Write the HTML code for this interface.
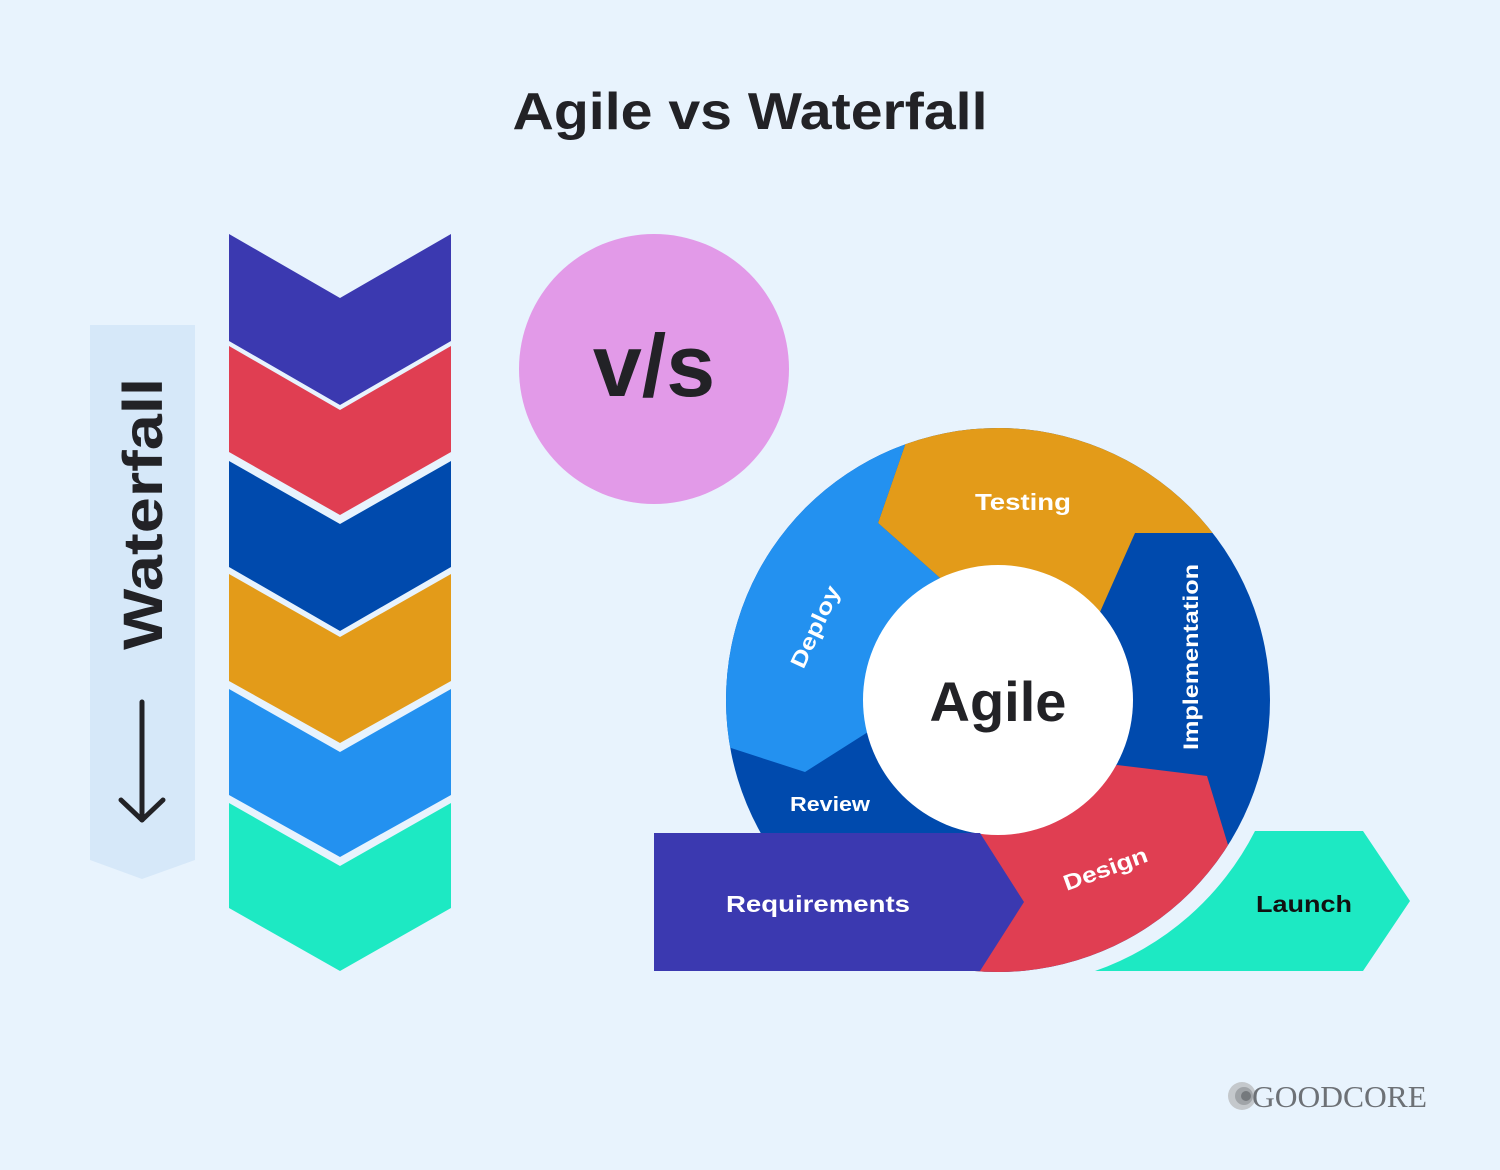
<!DOCTYPE html>
<html><head><meta charset="utf-8"><style>
html,body{margin:0;padding:0;background:#e8f3fd;}
svg{display:block;}
text{font-family:"Liberation Sans",sans-serif;font-weight:bold;}
</style></head><body>
<svg width="1500" height="1170" viewBox="0 0 1500 1170" xmlns="http://www.w3.org/2000/svg">
<rect width="1500" height="1170" fill="#e8f3fd"/>
<text x="750" y="129" text-anchor="middle" font-size="52" fill="#222226" textLength="475" lengthAdjust="spacingAndGlyphs">Agile vs Waterfall</text>

<!-- waterfall banner -->
<path d="M90,325 H195 V860 L142,879 L90,860 Z" fill="#d6e8f9"/>
<text transform="translate(162,514) rotate(-90)" text-anchor="middle" font-size="56" fill="#222226" textLength="272" lengthAdjust="spacingAndGlyphs">Waterfall</text>
<g stroke="#222226" stroke-width="5" fill="none" stroke-linecap="round" stroke-linejoin="round">
<line x1="142" y1="702" x2="142" y2="820"/>
<polyline points="121,800 142,820 163,800"/>
</g>

<!-- chevrons -->
<path d="M229,234 L340,298 L451,234 V341 L340,405 L229,341 Z" fill="#3b39b0"/>
<path d="M229,346 L340,410 L451,346 V452 L340,515 L229,452 Z" fill="#e03e52"/>
<path d="M229,461 L340,524 L451,461 V567 L340,631 L229,567 Z" fill="#004aad"/>
<path d="M229,574 L340,637 L451,574 V681 L340,743 L229,681 Z" fill="#e39b19"/>
<path d="M229,689 L340,752 L451,689 V795 L340,857 L229,795 Z" fill="#2391f0"/>
<path d="M229,803 L340,866 L451,803 V908 L340,971 L229,908 Z" fill="#1de9c3"/>

<!-- v/s -->
<circle cx="654" cy="369" r="135" fill="#e29ae8"/>
<text x="654" y="396" text-anchor="middle" font-size="88" fill="#222226">v/s</text>

<!-- agile ring -->
<defs><clipPath id="ring"><circle cx="998" cy="700" r="272"/></clipPath></defs>
<g clip-path="url(#ring)">
<rect x="700" y="400" width="600" height="600" fill="#004aad"/>
<path d="M905,400 L905,445 L878,523 L940,578 L1100,612 L1135,533 L1300,533 L1300,400 Z" fill="#e39b19"/>
<path d="M700,400 L905,400 L905,445 L878,523 L940,578 L868,732 L805,772 L700,738 Z" fill="#2391f0"/>
<path d="M1117,765 L1207,776 L1228,845 L1300,1000 L960,1000 L960,834 L1000,834 Z" fill="#e03e52"/>
</g>
<circle cx="998" cy="700" r="135" fill="#ffffff"/>
<path d="M654,833 L980,833 L1024,902 L980,971 L654,971 Z" fill="#3b39b0"/>
<path d="M1255,831 L1363,831 L1410,901 L1363,971 L1095,971 A285,285 0 0 0 1255,831 Z" fill="#1de9c3"/>

<text x="998" y="721" text-anchor="middle" font-size="56" fill="#222226">Agile</text>
<g fill="#ffffff" font-size="23">
<text x="1023" y="510" text-anchor="middle" textLength="96" lengthAdjust="spacingAndGlyphs">Testing</text>
<text transform="translate(1198,657) rotate(-90)" text-anchor="middle" font-size="21" textLength="186" lengthAdjust="spacingAndGlyphs">Implementation</text>
<text transform="translate(822,630) rotate(-65)" text-anchor="middle" font-size="22" textLength="88" lengthAdjust="spacingAndGlyphs">Deploy</text>
<text x="830" y="811" text-anchor="middle" font-size="20" textLength="80" lengthAdjust="spacingAndGlyphs">Review</text>
<text transform="translate(1108,876) rotate(-20)" text-anchor="middle" font-size="22" textLength="88" lengthAdjust="spacingAndGlyphs">Design</text>
<text x="818" y="912" text-anchor="middle" textLength="184" lengthAdjust="spacingAndGlyphs">Requirements</text>
</g>
<text x="1304" y="912" text-anchor="middle" font-size="23" fill="#111" textLength="96" lengthAdjust="spacingAndGlyphs">Launch</text>

<!-- logo -->
<circle cx="1242" cy="1096" r="14" fill="#c4c8cc"/>
<circle cx="1244" cy="1096" r="9" fill="#a0a4a8"/>
<circle cx="1246" cy="1096" r="5" fill="#75797d"/>
<text x="1252" y="1107" font-family="Liberation Serif,serif" font-weight="normal" font-size="31" fill="#6d7176" textLength="175" lengthAdjust="spacingAndGlyphs" style="font-family:'Liberation Serif',serif;font-weight:normal">GOODCORE</text>
</svg>
</body></html>
